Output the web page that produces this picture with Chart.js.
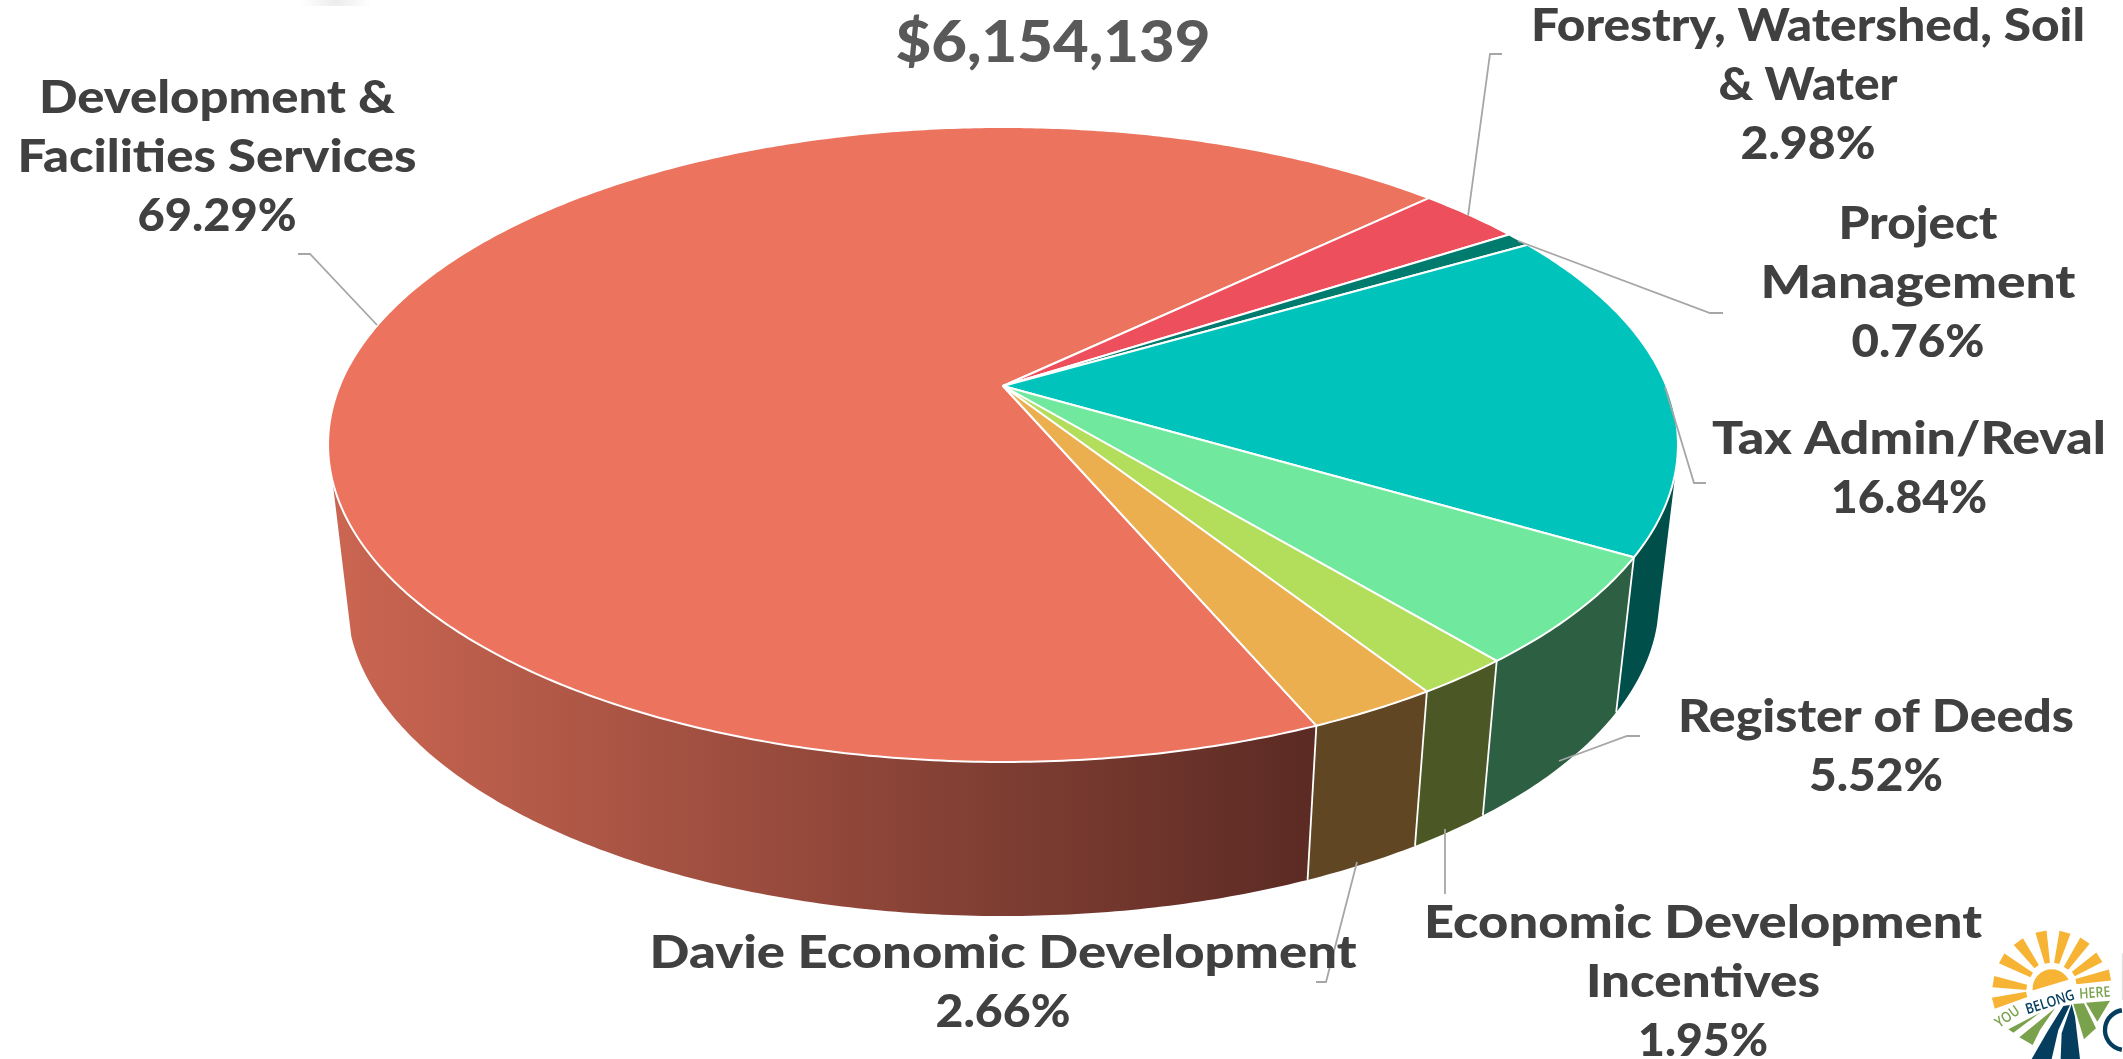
<!DOCTYPE html>
<html>
<head>
<meta charset="utf-8">
<title>$6,154,139</title>
<script src="https://cdn.jsdelivr.net/npm/chart.js@4"></script>
<style>
  html, body { margin: 0; padding: 0; background: #ffffff; }
  canvas { display: block; }
</style>
</head>
<body>
<canvas id="budgetPie" width="2123" height="1059"></canvas>
<script>
// Chart data
const categories = [
    'Development &\nFacilities Services',
    'Forestry, Watershed, Soil\n& Water',
    'Project\nManagement',
    'Tax Admin/Reval',
    'Register of Deeds',
    'Economic Development\nIncentives',
    'Davie Economic Development'
];
const shares = [69.29, 2.98, 0.76, 16.84, 5.52, 1.95, 2.66];
const topColors = ['#ec745f', '#ee4f5c', '#007c6f', '#00c4bb', '#70e89e', '#b3de5c', '#ecaf50'];
const wallColors = ['#5c2b24', '#6e2a30', '#00413a', '#004f4a', '#2d5f42', '#4b5826', '#604622'];
const totalLabel = '$6,154,139';

// Label layout: centre x, first baseline and set width of each line
const labelCentres = [217, 1808, 1918, 1909, 1876, 1703, 1003];
const labelBaselines = [113, 41, 239, 454, 732, 938, 968];
const labelWidths = [
    [356, 399, 159],
    [554, 179, 135],
    [159, 315, 133],
    [394, 156],
    [396, 134],
    [558, 234, 130],
    [707, 135]
];
const labelLineHeight = 59;

// Leader lines, one polyline per slice
const leaderLines = [
    [[298, 254], [310, 254], [377, 325]],
    [[1502, 54], [1490, 54], [1468, 216]],
    [[1723, 313], [1710, 313], [1518, 241]],
    [[1706, 483], [1694, 483], [1665, 387]],
    [[1640, 736], [1627, 736], [1559, 761]],
    [[1445, 894], [1445, 829]],
    [[1316, 982], [1326, 982], [1357, 862]]
];

// Tilted disc: a unit circle seen in perspective, top face and base
const disc = { cx: 1003, k: 0.1842 };
const topFace = { cy: 386, a: 663.4, b: 306.7 };
const baseFace = { cy: 541.8, a: 644.8, b: 305.3 };
// part of the rim that faces the viewer, in radians
const frontFrom = 15 * Math.PI / 180;
const frontTo = 163 * Math.PI / 180;

function project(face, angle) {
    const X = Math.cos(angle);
    const Y = Math.sin(angle);
    const w = 1 - disc.k * Y;
    return [disc.cx + face.a * X / w, face.cy + face.b * Y / w];
}

function traceEdge(ctx, face, from, to, first) {
    const steps = Math.max(2, Math.ceil(Math.abs(to - from) / 0.01));
    for (let i = 0; i <= steps; i++) {
        const p = project(face, from + (to - from) * i / steps);
        if (first && i === 0) ctx.moveTo(p[0], p[1]);
        else ctx.lineTo(p[0], p[1]);
    }
}

function drawWall(ctx, arc, i) {
    // arcs can run past a full turn, so test the front range twice
    [0, Math.PI * 2].forEach(turn => {
        const from = Math.max(arc.startAngle, frontFrom + turn);
        const to = Math.min(arc.endAngle, frontTo + turn);
        if (from >= to) return;
        ctx.beginPath();
        traceEdge(ctx, topFace, from, to, true);
        traceEdge(ctx, baseFace, to, from, false);
        ctx.closePath();
        if (i === 0) {
            // the long wall darkens from left to right
            const grad = ctx.createLinearGradient(347, 0, 1307, 0);
            grad.addColorStop(0, '#c96551');
            grad.addColorStop(1, wallColors[0]);
            ctx.fillStyle = grad;
        } else {
            ctx.fillStyle = wallColors[i];
        }
        ctx.fill();
    });
}

function drawTop(ctx, arc, i) {
    ctx.beginPath();
    ctx.moveTo(disc.cx, topFace.cy);
    traceEdge(ctx, topFace, arc.startAngle, arc.endAngle, false);
    ctx.closePath();
    ctx.fillStyle = topColors[i];
    ctx.fill();
    ctx.strokeStyle = '#ffffff';
    ctx.lineWidth = 2;
    ctx.lineJoin = 'round';
    ctx.stroke();
}

function drawSeams(ctx, arcs) {
    ctx.strokeStyle = '#ffffff';
    ctx.lineWidth = 1.8;
    arcs.forEach(arc => {
        const angle = arc.startAngle;
        if (Math.sin(angle) <= 0) return;
        const a = project(topFace, angle);
        const b = project(baseFace, angle);
        ctx.beginPath();
        ctx.moveTo(a[0], a[1]);
        ctx.lineTo(b[0], b[1]);
        ctx.stroke();
    });
}

// Replaces the flat arcs with the extruded disc
const tiltedPie = {
    id: 'tiltedPie',
    beforeDatasetDraw(chart, args) {
        const ctx = chart.ctx;
        const arcs = args.meta.data;
        ctx.save();
        arcs.forEach((arc, i) => drawWall(ctx, arc, i));
        drawSeams(ctx, arcs);
        arcs.forEach((arc, i) => drawTop(ctx, arc, i));
        ctx.restore();
        return false;
    }
};

// Century Gothic is wider than the installed faces, so stretch each line to its width
function fitText(ctx, text, x, y, width) {
    const natural = ctx.measureText(text).width;
    ctx.save();
    ctx.translate(x, y);
    ctx.scale(width / natural, 1);
    ctx.fillText(text, 0, 0);
    ctx.restore();
}

function drawLabels(ctx) {
    ctx.save();
    ctx.textAlign = 'center';
    ctx.textBaseline = 'alphabetic';

    ctx.fillStyle = '#595959';
    ctx.font = '900 57px Lato';
    fitText(ctx, totalLabel, 1053, 62, 315);

    ctx.fillStyle = '#404040';
    ctx.font = '900 45px Lato';
    categories.forEach((name, i) => {
        const lines = name.split('\n').concat(shares[i].toFixed(2) + '%');
        lines.forEach((line, n) => {
            fitText(ctx, line, labelCentres[i], labelBaselines[i] + n * labelLineHeight, labelWidths[i][n]);
        });
    });
    ctx.restore();
}

function drawLeaders(ctx) {
    ctx.save();
    ctx.strokeStyle = '#a6a6a6';
    ctx.lineWidth = 1.8;
    leaderLines.forEach(line => {
        ctx.beginPath();
        line.forEach((p, n) => n ? ctx.lineTo(p[0], p[1]) : ctx.moveTo(p[0], p[1]));
        ctx.stroke();
    });
    ctx.restore();
}

// County badge in the lower right corner
function fillShape(ctx, color, pts) {
    ctx.fillStyle = color;
    ctx.beginPath();
    pts.forEach((p, n) => n ? ctx.lineTo(p[0], p[1]) : ctx.moveTo(p[0], p[1]));
    ctx.closePath();
    ctx.fill();
}

function drawBadge(ctx) {
    const orange = '#f7b334', green = '#7aa24c', navy = '#043d5d';
    const rays = [
        [100, 310, 200, 283], [100, 245, 200, 262], [125, 175, 215, 225],
        [175, 125, 230, 200], [243, 95, 262, 190], [315, 97, 290, 190],
        [375, 122, 318, 205], [418, 172, 340, 222], [450, 225, 348, 245]
    ];
    ctx.save();
    ctx.translate(1960, 900);
    ctx.scale(1 / 3, 1 / 3);

    rays.forEach(r => {
        const dx = r[2] - r[0], dy = r[3] - r[1];
        const len = Math.hypot(dx, dy);
        const nx = -dy / len, ny = dx / len;
        fillShape(ctx, orange, [
            [r[0] + nx * 17, r[1] + ny * 17], [r[2] + nx * 8, r[3] + ny * 8],
            [r[2] - nx * 8, r[3] - ny * 8], [r[0] - nx * 17, r[1] - ny * 17]
        ]);
    });

    // sun, cut off by the sloped horizon
    ctx.save();
    ctx.beginPath();
    ctx.moveTo(210, 274); ctx.lineTo(335, 236); ctx.lineTo(335, 190); ctx.lineTo(210, 190);
    ctx.closePath();
    ctx.clip();
    ctx.fillStyle = orange;
    ctx.beginPath();
    ctx.arc(275, 265, 57, 0, Math.PI * 2);
    ctx.fill();
    ctx.restore();

    fillShape(ctx, green, [[145, 388], [240, 338], [160, 398]]);
    fillShape(ctx, green, [[178, 412], [285, 325], [240, 390], [218, 435]]);
    fillShape(ctx, green, [[340, 312], [372, 310], [408, 385], [372, 418]]);
    fillShape(ctx, green, [[378, 308], [450, 302], [412, 365]]);
    fillShape(ctx, navy, [[215, 477], [262, 395], [310, 318], [330, 315], [295, 390], [275, 477]]);
    fillShape(ctx, navy, [[302, 477], [305, 400], [335, 312], [345, 350], [360, 477]]);

    ctx.textAlign = 'center';
    ctx.font = '600 44px "Open Sans"';
    const words = [
        ['YOU', 150, 362, -0.62, green],
        ['BELONG', 274, 320, -0.3, navy],
        ['HERE', 405, 293, -0.07, green]
    ];
    words.forEach(w => {
        ctx.save();
        ctx.translate(w[1], w[2]);
        ctx.rotate(w[3]);
        ctx.scale(0.85, 1);
        ctx.fillStyle = w[4];
        ctx.fillText(w[0], 0, 0);
        ctx.restore();
    });

    ctx.strokeStyle = navy;
    ctx.lineWidth = 13;
    ctx.beginPath();
    ctx.arc(495, 390, 60, Math.PI * 0.55, Math.PI * 1.45);
    ctx.stroke();

    ctx.strokeStyle = '#dddddd';
    ctx.lineWidth = 3;
    ctx.beginPath();
    ctx.moveTo(487, 160);
    ctx.lineTo(487, 300);
    ctx.stroke();
    ctx.restore();
}

// Faint shadow along the top edge of the slide
function drawEdgeShadow(ctx) {
    const grad = ctx.createRadialGradient(336, 0, 0, 336, 0, 36);
    grad.addColorStop(0, '#ececec');
    grad.addColorStop(1, '#ffffff');
    ctx.save();
    ctx.fillStyle = grad;
    ctx.fillRect(300, 0, 72, 6);
    ctx.restore();
}

const annotations = {
    id: 'annotations',
    afterDraw(chart) {
        const ctx = chart.ctx;
        drawEdgeShadow(ctx);
        drawLeaders(ctx);
        drawLabels(ctx);
        drawBadge(ctx);
    }
};

new Chart(document.getElementById('budgetPie'), {
    type: 'pie',
    data: {
        labels: categories,
        datasets: [{ data: shares, backgroundColor: topColors, borderWidth: 0 }]
    },
    options: {
        responsive: false,
        animation: false,
        rotation: 156.9,
        layout: { padding: 0 },
        plugins: { legend: { display: false }, tooltip: { enabled: false } }
    },
    plugins: [tiltedPie, annotations]
});
</script>
</body>
</html>
